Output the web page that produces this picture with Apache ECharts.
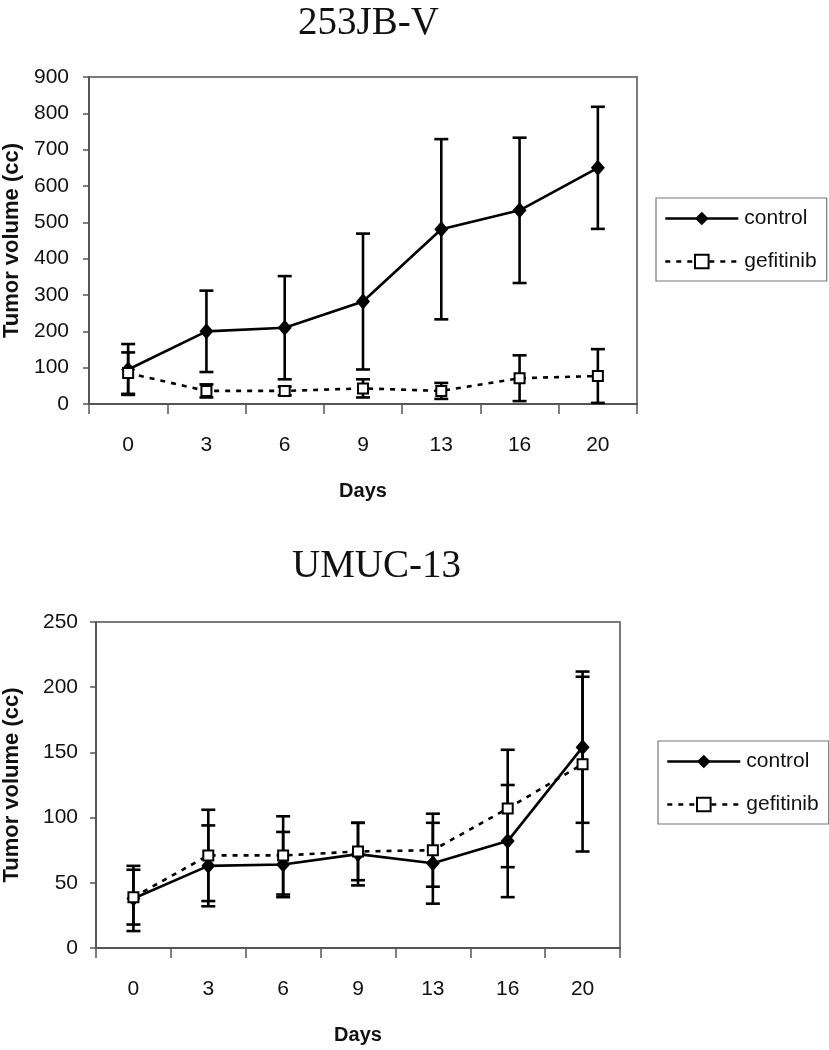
<!DOCTYPE html>
<html>
<head>
<meta charset="utf-8">
<script src="https://cdn.jsdelivr.net/npm/echarts@6/dist/echarts.min.js"></script>
<style>
html,body{margin:0;padding:0;background:#fff;}
#chart{width:829px;height:1050px;}
</style>
</head>
<body>
<div id="chart"></div>
<script>
// ---- data ----
const categories = ['0', '3', '6', '9', '13', '16', '20'];

// 253JB-V
const topControlMean = [95, 200, 210, 282, 481, 533, 650];
const topControlSD   = [70, 112, 142, 187, 248, 200, 168];
const topGefMean     = [85, 36, 36, 43, 36, 71, 77];
const topGefSD       = [57, 18, 12, 25, 22, 63, 74];

// UMUC-13
const botControlMean = [38, 63, 64, 72, 65, 82, 154];
const botControlSD   = [25, 31, 25, 24, 31, 43, 58];
const botGefMean     = [39, 71, 71, 74, 75, 107, 141];
const botGefSD       = [21, 35, 30, 22, 28, 45, 67];

const titles = ['253JB-V', 'UMUC-13'];
const seriesNames = ['control', 'gefitinib'];
const yTitle = 'Tumor volume (cc)';
const xTitle = 'Days';

// ---- helpers ----
function errData(mean, sd) {
  return mean.map((m, i) => [i, Math.max(0, m - sd[i]), m + sd[i]]);
}
function errSeries(mean, sd, gi) {
  return {
    type: 'custom',
    xAxisIndex: gi, yAxisIndex: gi,
    data: errData(mean, sd),
    z: 1,
    silent: true,
    renderItem: function (params, api) {
      const x = api.value(0);
      const hi = api.coord([x, api.value(2)]);
      const lo = api.coord([x, api.value(1)]);
      const w = 7;
      const st = { stroke: '#000', lineWidth: 2.6 };
      return {
        type: 'group',
        children: [
          { type: 'line', shape: { x1: hi[0], y1: hi[1], x2: lo[0], y2: lo[1] }, style: st },
          { type: 'line', shape: { x1: hi[0] - w, y1: hi[1], x2: hi[0] + w, y2: hi[1] }, style: st },
          { type: 'line', shape: { x1: lo[0] - w, y1: lo[1], x2: lo[0] + w, y2: lo[1] }, style: st }
        ]
      };
    }
  };
}
function controlSeries(data, gi) {
  return {
    name: seriesNames[0], type: 'line', xAxisIndex: gi, yAxisIndex: gi,
    data: data, z: 3,
    symbol: 'diamond', symbolSize: [14, 16], showAllSymbol: true,
    lineStyle: { color: '#000', width: 2.6, type: 'solid' },
    itemStyle: { color: '#000', borderColor: '#000', borderWidth: 0 },
    animation: false
  };
}
function gefSeries(data, gi) {
  return {
    name: seriesNames[1], type: 'line', xAxisIndex: gi, yAxisIndex: gi,
    data: data, z: 4,
    symbol: 'rect', symbolSize: 10, showAllSymbol: true,
    lineStyle: { color: '#000', width: 2.6, type: [5, 6] },
    itemStyle: { color: '#fff', borderColor: '#000', borderWidth: 2 },
    animation: false
  };
}
const labelFont = { fontFamily: 'Liberation Sans', fontSize: 21, color: '#111' };
const nameFont = { fontFamily: 'Liberation Sans', fontSize: 20, fontWeight: 'bold', color: '#111' };

function xAx(gi) {
  return {
    type: 'category', gridIndex: gi, data: categories, boundaryGap: true,
    axisLine: { show: true, lineStyle: { color: '#555', width: 2 } },
    axisTick: { show: true, length: 10, lineStyle: { color: '#555', width: 1.5 } },
    axisLabel: Object.assign({ margin: 31 }, labelFont),
    splitLine: { show: false },
    name: xTitle, nameLocation: 'middle', nameGap: 77, nameTextStyle: nameFont
  };
}
function yAx(gi, max, interval, gap, margin) {
  return {
    type: 'value', gridIndex: gi, min: 0, max: max, interval: interval,
    axisLine: { show: true, lineStyle: { color: '#555', width: 2 } },
    axisTick: { show: true, length: 6, lineStyle: { color: '#555', width: 1.5 } },
    axisLabel: Object.assign({ margin: margin }, labelFont),
    splitLine: { show: false },
    name: yTitle, nameLocation: 'middle', nameGap: gap, nameRotate: 90,
    nameTextStyle: Object.assign({}, nameFont, { fontSize: 22 })
  };
}
function legend(gi, left, top, w, h) {
  return {
    show: true,
    orient: 'vertical',
    left: left, top: top, width: w, height: h,
    padding: [10, 10, 9, 8],
    itemGap: 22,
    itemWidth: 73, itemHeight: 17,
    lineStyle: { width: 2.6 },
    borderColor: '#777', borderWidth: 1.2, borderRadius: 0,
    backgroundColor: '#fff',
    selectedMode: false,
    textStyle: { fontFamily: 'Liberation Sans', fontSize: 21, color: '#111', padding: [0, 0, 0, 1] },
    data: seriesNames
  };
}

const option = {
  animation: false,
  backgroundColor: '#fff',
  title: [
    { text: titles[0], left: 298, top: 4, padding: 0,
      textStyle: { fontFamily: 'Liberation Serif', fontSize: 39, fontWeight: 'normal', color: '#111' } },
    { text: titles[1], left: 292, top: 547, padding: 0,
      textStyle: { fontFamily: 'Liberation Serif', fontSize: 39, fontWeight: 'normal', color: '#111' } }
  ],
  legend: [
    legend(0, 656, 198, 170, 85),
    legend(1, 658, 741, 162, 86)
  ],
  grid: [
    { left: 89, top: 77, width: 548, height: 327, show: true, borderColor: '#7a7a7a', borderWidth: 2,
      backgroundColor: 'transparent', containLabel: false, outerBoundsMode: 'none' },
    { left: 96, top: 622, width: 524, height: 326, show: true, borderColor: '#7a7a7a', borderWidth: 2,
      backgroundColor: 'transparent', containLabel: false, outerBoundsMode: 'none' }
  ],
  xAxis: [xAx(0), xAx(1)],
  yAxis: [yAx(0, 900, 100, 66, 20), yAx(1, 250, 50, 73, 18)],
  series: [
    errSeries(topControlMean, topControlSD, 0),
    errSeries(topGefMean, topGefSD, 0),
    controlSeries(topControlMean, 0),
    gefSeries(topGefMean, 0),
    errSeries(botControlMean, botControlSD, 1),
    errSeries(botGefMean, botGefSD, 1),
    controlSeries(botControlMean, 1),
    gefSeries(botGefMean, 1)
  ]
};

const chart = echarts.init(document.getElementById('chart'), null, { renderer: 'canvas' });
chart.setOption(option);
</script>
</body>
</html>
